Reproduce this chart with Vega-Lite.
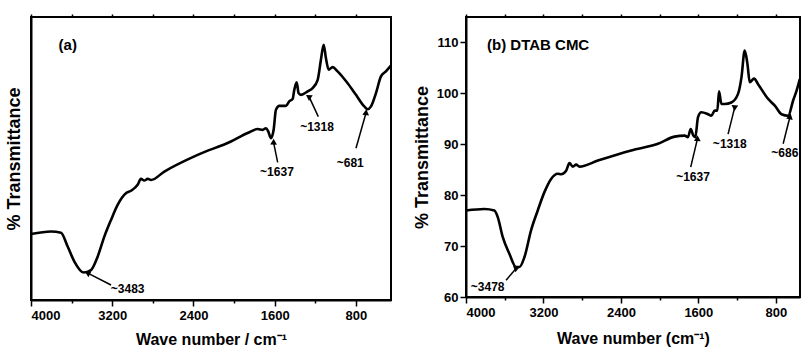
{
  "$schema": "https://vega.github.io/schema/vega-lite/v6.json",
  "padding": {"left": 4, "top": 12, "right": 0, "bottom": 0},
  "background": "white",
  "spacing": 18,
  "config": {
    "font": "Liberation Sans",
    "view": {"stroke": "black", "strokeWidth": 2},
    "axis": {
      "grid": false,
      "domainColor": "black",
      "domainWidth": 2,
      "tickColor": "black",
      "tickWidth": 1.5,
      "labelColor": "black",
      "titleColor": "black",
      "labelFont": "Liberation Sans",
      "labelFontWeight": "bold",
      "labelFontSize": 13,
      "titleFont": "Liberation Sans",
      "titleFontWeight": "bold",
      "titleFontSize": 16
    },
    "axisY": {"titleFontSize": 18}
  },
  "datasets": {
    "specA": [
      {"wn": 4000, "T": 23.3}, {"wn": 3803, "T": 24.2}, {"wn": 3705, "T": 23.8}, {"wn": 3639, "T": 18.9},
      {"wn": 3573, "T": 13.6}, {"wn": 3481, "T": 9.7}, {"wn": 3409, "T": 10.6}, {"wn": 3344, "T": 15.3},
      {"wn": 3278, "T": 22.4}, {"wn": 3212, "T": 28.3}, {"wn": 3147, "T": 33.6}, {"wn": 3065, "T": 37.7},
      {"wn": 3015, "T": 38.6}, {"wn": 2950, "T": 40.7}, {"wn": 2917, "T": 42.8}, {"wn": 2884, "T": 42.2},
      {"wn": 2851, "T": 42.8}, {"wn": 2818, "T": 42.4}, {"wn": 2687, "T": 45.4}, {"wn": 2359, "T": 51.3},
      {"wn": 2031, "T": 56.0}, {"wn": 1867, "T": 59.0}, {"wn": 1768, "T": 60.4}, {"wn": 1719, "T": 60.1},
      {"wn": 1686, "T": 60.7}, {"wn": 1663, "T": 59.5}, {"wn": 1637, "T": 57.2}, {"wn": 1611, "T": 60.1},
      {"wn": 1588, "T": 67.2}, {"wn": 1555, "T": 68.6}, {"wn": 1489, "T": 68.6}, {"wn": 1457, "T": 70.2},
      {"wn": 1424, "T": 71.0}, {"wn": 1407, "T": 74.3}, {"wn": 1384, "T": 76.9}, {"wn": 1365, "T": 73.1},
      {"wn": 1342, "T": 72.5}, {"wn": 1276, "T": 73.7}, {"wn": 1227, "T": 74.9}, {"wn": 1177, "T": 77.8},
      {"wn": 1145, "T": 84.9}, {"wn": 1118, "T": 90.2}, {"wn": 1096, "T": 85.5}, {"wn": 1069, "T": 81.4},
      {"wn": 1030, "T": 82.3}, {"wn": 981, "T": 80.8}, {"wn": 882, "T": 76.6}, {"wn": 800, "T": 72.5},
      {"wn": 718, "T": 68.4}, {"wn": 685, "T": 67.4}, {"wn": 652, "T": 68.4}, {"wn": 603, "T": 73.1},
      {"wn": 554, "T": 79.0}, {"wn": 505, "T": 80.8}, {"wn": 456, "T": 82.8}
    ],
    "specB": [
      {"wn": 4000, "T": 77.0}, {"wn": 3810, "T": 77.3}, {"wn": 3707, "T": 77.0}, {"wn": 3672, "T": 75.7},
      {"wn": 3621, "T": 71.8}, {"wn": 3552, "T": 68.5}, {"wn": 3483, "T": 65.9}, {"wn": 3448, "T": 65.9},
      {"wn": 3397, "T": 67.8}, {"wn": 3328, "T": 73.1}, {"wn": 3259, "T": 77.0}, {"wn": 3190, "T": 80.6},
      {"wn": 3121, "T": 83.2}, {"wn": 3052, "T": 84.2}, {"wn": 3017, "T": 84.1}, {"wn": 2966, "T": 84.8},
      {"wn": 2931, "T": 86.3}, {"wn": 2897, "T": 85.6}, {"wn": 2862, "T": 86.0}, {"wn": 2828, "T": 85.6},
      {"wn": 2638, "T": 86.8}, {"wn": 2293, "T": 88.8}, {"wn": 2017, "T": 90.1}, {"wn": 1845, "T": 91.5},
      {"wn": 1741, "T": 91.7}, {"wn": 1707, "T": 91.4}, {"wn": 1679, "T": 93.0}, {"wn": 1652, "T": 91.7},
      {"wn": 1631, "T": 91.4}, {"wn": 1604, "T": 95.3}, {"wn": 1569, "T": 96.3}, {"wn": 1500, "T": 95.9},
      {"wn": 1466, "T": 95.6}, {"wn": 1431, "T": 96.6}, {"wn": 1404, "T": 96.6}, {"wn": 1386, "T": 100.4},
      {"wn": 1362, "T": 97.9}, {"wn": 1328, "T": 97.9}, {"wn": 1259, "T": 98.2}, {"wn": 1190, "T": 99.9},
      {"wn": 1155, "T": 103.1}, {"wn": 1121, "T": 108.4}, {"wn": 1093, "T": 105.8}, {"wn": 1069, "T": 102.2},
      {"wn": 1024, "T": 102.9}, {"wn": 983, "T": 101.8}, {"wn": 879, "T": 98.9}, {"wn": 810, "T": 97.6},
      {"wn": 741, "T": 95.9}, {"wn": 672, "T": 95.6}, {"wn": 621, "T": 98.6}, {"wn": 586, "T": 100.5},
      {"wn": 552, "T": 102.8}
    ],
    "annA": [
      {"label": "~3483", "tx": 3048, "ty": 3.8, "hx": 3436, "hy": 9.4, "sx": 3212, "sy": 5.3},
      {"label": "~1637", "tx": 1578, "ty": 45.2, "hx": 1611, "hy": 55.6, "sx": 1571, "sy": 48.6},
      {"label": "~1318", "tx": 1184, "ty": 61.3, "hx": 1260, "hy": 71.7, "sx": 1171, "sy": 64.8},
      {"label": "~681", "tx": 856, "ty": 48.4, "hx": 702, "hy": 66.0, "sx": 800, "sy": 53.6}
    ],
    "annB": [
      {"label": "~3478", "tx": 3776, "ty": 62.0, "hx": 3483, "hy": 65.6, "sx": 3586, "sy": 63.3},
      {"label": "~1637", "tx": 1655, "ty": 83.5, "hx": 1610, "hy": 91.0, "sx": 1679, "sy": 85.5},
      {"label": "~1318", "tx": 1276, "ty": 90.1, "hx": 1224, "hy": 97.3, "sx": 1293, "sy": 92.0},
      {"label": "~686", "tx": 707, "ty": 88.2, "hx": 655, "hy": 95.3, "sx": 724, "sy": 90.1}
    ],
    "titleA": [{"text": "(a)", "wn": 3728, "T": 90.2}],
    "titleB": [{"text": "(b) DTAB CMC", "wn": 3783, "T": 109.5}]
  },
  "hconcat": [
    {
      "width": 360,
      "height": 283,
      "resolve": {"axis": {"x": "independent"}},
      "layer": [
        {
          "data": {"name": "specA"},
          "mark": {"type": "line", "color": "black", "strokeWidth": 2.6, "strokeJoin": "round", "interpolate": "monotone"},
          "encoding": {
            "x": {"field": "wn", "type": "quantitative", "scale": {"domain": [4000, 455], "nice": false, "zero": false},
              "axis": {"title": "Wave number / cm⁻¹", "values": [4000, 3600, 3200, 2800, 2400, 2000, 1600, 1200, 800],
                "labelExpr": "datum.value % 800 == 0 ? datum.label : ''", "format": "d",
                "tickSize": {"condition": {"test": "datum.value % 800 == 0", "value": 6}, "value": 3},
                "labelPadding": 3, "titlePadding": 9}},
            "y": {"field": "T", "type": "quantitative", "scale": {"domain": [0, 100], "nice": false, "zero": false},
              "axis": {"title": "% Transmittance", "labels": false, "ticks": false, "titlePadding": 8}}
          }
        },
        {
          "data": {"name": "annA"},
          "mark": {"type": "rule", "color": "black", "strokeWidth": 1.5},
          "encoding": {
            "x": {"field": "sx", "type": "quantitative", "axis": {"orient": "top", "title": null, "labels": false, "domain": false, "values": [4000, 3600, 3200, 2800, 2400, 2000, 1600, 1200, 800], "tickSize": 3}},
            "y": {"field": "sy", "type": "quantitative"},
            "x2": {"field": "hx"},
            "y2": {"field": "hy"}
          }
        },
        {
          "data": {"name": "annA"},
          "mark": {"type": "point", "shape": "triangle", "filled": true, "color": "black", "size": 45, "opacity": 1},
          "encoding": {
            "x": {"field": "hx", "type": "quantitative", "axis": null},
            "y": {"field": "hy", "type": "quantitative"},
            "angle": {"field": "label", "type": "nominal", "scale": {"domain": ["~3483", "~1637", "~1318", "~681"], "range": [298, 12, 335, 22]}, "legend": null}
          }
        },
        {
          "data": {"name": "annA"},
          "mark": {"type": "text", "fontWeight": "bold", "fontSize": 12, "color": "black"},
          "encoding": {
            "x": {"field": "tx", "type": "quantitative", "axis": null},
            "y": {"field": "ty", "type": "quantitative"},
            "text": {"field": "label"}
          }
        },
        {
          "data": {"name": "titleA"},
          "mark": {"type": "text", "align": "left", "fontWeight": "bold", "fontSize": 15, "color": "black"},
          "encoding": {
            "x": {"field": "wn", "type": "quantitative", "axis": null},
            "y": {"field": "T", "type": "quantitative"},
            "text": {"field": "text"}
          }
        }
      ]
    },
    {
      "width": 334,
      "height": 280,
      "resolve": {"axis": {"x": "independent"}},
      "layer": [
        {
          "data": {"name": "specB"},
          "mark": {"type": "line", "color": "black", "strokeWidth": 2.6, "strokeJoin": "round", "interpolate": "monotone"},
          "encoding": {
            "x": {"field": "wn", "type": "quantitative", "scale": {"domain": [4000, 550], "nice": false, "zero": false},
              "axis": {"title": "Wave number (cm⁻¹)", "values": [4000, 3600, 3200, 2800, 2400, 2000, 1600, 1200, 800],
                "labelExpr": "datum.value % 800 == 0 ? datum.label : ''", "format": "d",
                "tickSize": {"condition": {"test": "datum.value % 800 == 0", "value": 6}, "value": 3},
                "labelPadding": 3, "titlePadding": 11}},
            "y": {"field": "T", "type": "quantitative", "scale": {"domain": [60, 115], "nice": false, "zero": false},
              "axis": {"title": "% Transmittance", "values": [60, 65, 70, 75, 80, 85, 90, 95, 100, 105, 110],
                "labelExpr": "datum.value % 10 == 0 ? datum.label : ''",
                "tickSize": {"condition": {"test": "datum.value % 10 == 0", "value": 6}, "value": 3},
                "labelPadding": 2, "titlePadding": 5}}
          }
        },
        {
          "data": {"name": "annB"},
          "mark": {"type": "rule", "color": "black", "strokeWidth": 1.5},
          "encoding": {
            "x": {"field": "sx", "type": "quantitative", "axis": {"orient": "top", "title": null, "labels": false, "domain": false, "values": [4000, 3600, 3200, 2800, 2400, 2000, 1600, 1200, 800], "tickSize": 3}},
            "y": {"field": "sy", "type": "quantitative"},
            "x2": {"field": "hx"},
            "y2": {"field": "hy"}
          }
        },
        {
          "data": {"name": "annB"},
          "mark": {"type": "point", "shape": "triangle", "filled": true, "color": "black", "size": 45, "opacity": 1},
          "encoding": {
            "x": {"field": "hx", "type": "quantitative", "axis": null},
            "y": {"field": "hy", "type": "quantitative"},
            "angle": {"field": "label", "type": "nominal", "scale": {"domain": ["~3478", "~1637", "~1318", "~686"], "range": [50, 20, 20, 20]}, "legend": null}
          }
        },
        {
          "data": {"name": "annB"},
          "mark": {"type": "text", "fontWeight": "bold", "fontSize": 12, "color": "black"},
          "encoding": {
            "x": {"field": "tx", "type": "quantitative", "axis": null},
            "y": {"field": "ty", "type": "quantitative"},
            "text": {"field": "label"}
          }
        },
        {
          "data": {"name": "titleB"},
          "mark": {"type": "text", "align": "left", "fontWeight": "bold", "fontSize": 15, "color": "black"},
          "encoding": {
            "x": {"field": "wn", "type": "quantitative", "axis": null},
            "y": {"field": "T", "type": "quantitative"},
            "text": {"field": "text"}
          }
        }
      ]
    }
  ]
}
